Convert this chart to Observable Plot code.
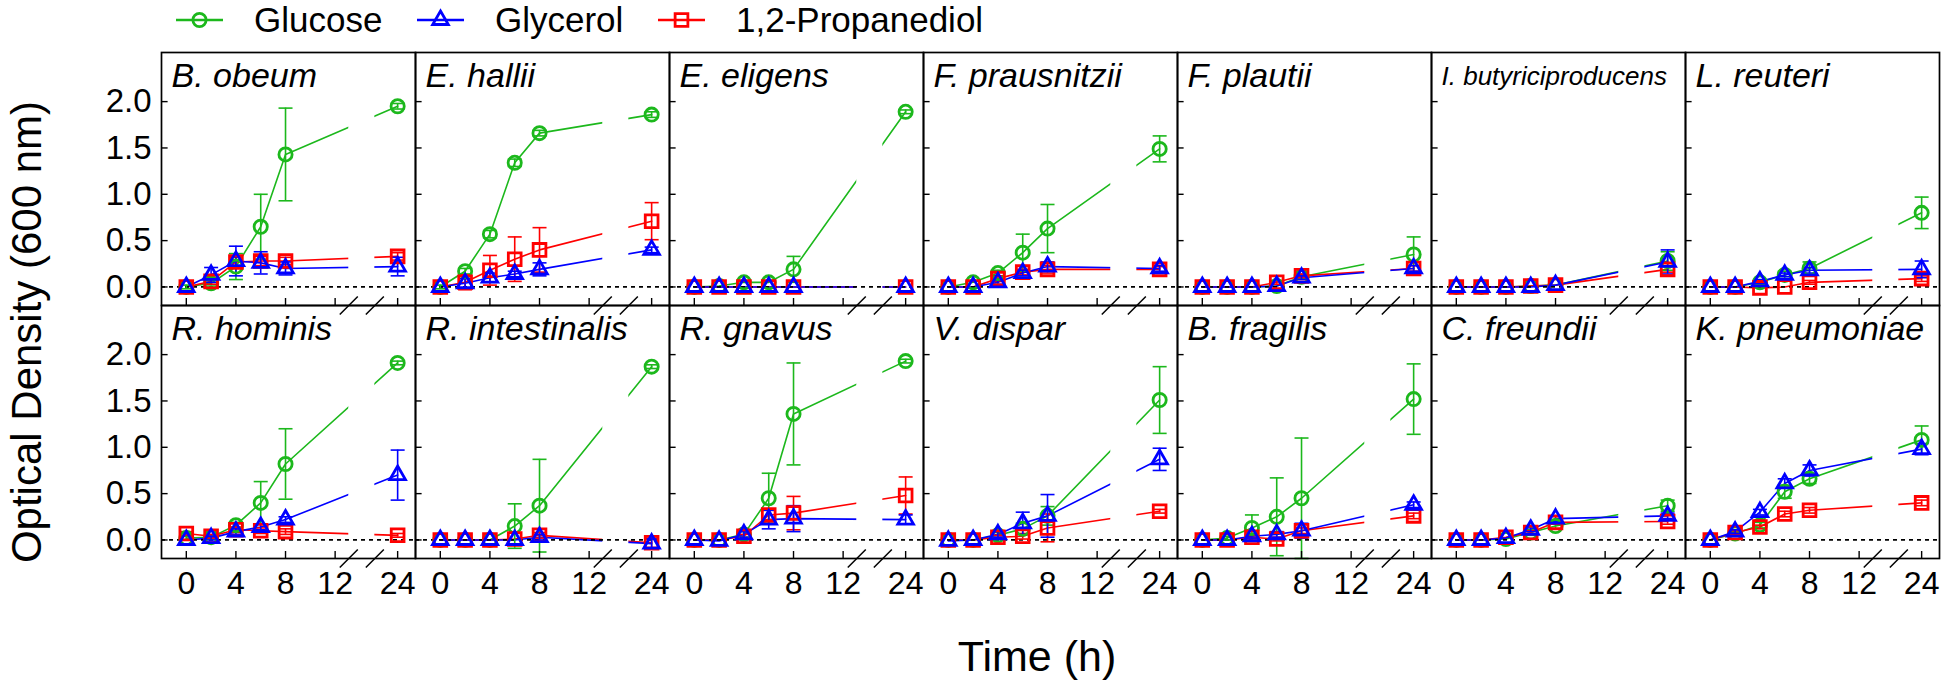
<!DOCTYPE html>
<html>
<head>
<meta charset="utf-8">
<script src="https://cdn.jsdelivr.net/npm/d3@7"></script>
<script src="https://cdn.jsdelivr.net/npm/@observablehq/plot@0.6"></script>
<style>
  html, body { margin: 0; padding: 0; background: #fff; }
  #wrap { position: relative; width: 1946px; height: 681px; font-family: "Liberation Sans", Arial, sans-serif; color: #000; overflow: hidden; }
  #wrap svg.plot { position: absolute; left: 0; top: 0; }
  .leg { position: absolute; top: 0; height: 40px; display: flex; align-items: center; }
  .leg span { font-size: 35px; line-height: 40px; margin-left: 31px; white-space: nowrap; }
  .title { position: absolute; white-space: nowrap; transform: translate(-50%, -50%); }
</style>
</head>
<body>
<div id="wrap"></div>
<script>
// ---------------- data ----------------
const species = [
  "B. obeum", "E. hallii", "E. eligens", "F. prausnitzii", "F. plautii", "I. butyriciproducens", "L. reuteri",
  "R. hominis", "R. intestinalis", "R. gnavus", "V. dispar", "B. fragilis", "C. freundii", "K. pneumoniae"
];
const hours = [0, 2, 4, 6, 8, 24];
const xTickHours = [0, 4, 8, 12, 24];
const yTicks = [0, 0.5, 1, 1.5, 2];
const seriesNames = ["Glucose", "Glycerol", "1,2-Propanediol"];

// optical density, one row per species, one value per hour
const glucose = [
  [0, 0.04, 0.22, 0.65, 1.43, 1.95],
  [0, 0.17, 0.57, 1.34, 1.66, 1.86],
  [0, 0.01, 0.05, 0.05, 0.19, 1.89],
  [0, 0.05, 0.15, 0.37, 0.63, 1.49],
  [0, 0, 0, 0.01, 0.11, 0.35],
  [0, 0, 0, 0.01, 0.02, 0.28],
  [0, 0, 0.05, 0.13, 0.2, 0.8],
  [0.02, 0.03, 0.16, 0.4, 0.82, 1.91],
  [0, 0, 0, 0.15, 0.37, 1.87],
  [0, 0, 0.06, 0.45, 1.36, 1.93],
  [0, 0, 0.05, 0.12, 0.26, 1.51],
  [0, 0.02, 0.13, 0.25, 0.45, 1.52],
  [0, 0, 0.01, 0.08, 0.15, 0.37],
  [0, 0.07, 0.16, 0.52, 0.66, 1.08]
];
const glucoseErr = [
  [0.02, 0.03, 0.14, 0.35, 0.5, 0.03],
  [0.02, 0.03, 0.04, 0.04, 0.03, 0.03],
  [0, 0, 0.01, 0.01, 0.14, 0.02],
  [0.01, 0.01, 0.03, 0.2, 0.26, 0.14],
  [0, 0, 0, 0, 0.02, 0.19],
  [0, 0, 0, 0, 0.01, 0.1],
  [0, 0, 0.02, 0.04, 0.07, 0.17],
  [0.02, 0.02, 0.03, 0.23, 0.38, 0.02],
  [0, 0, 0.01, 0.24, 0.5, 0.02],
  [0, 0, 0.03, 0.27, 0.55, 0.02],
  [0, 0, 0.03, 0.06, 0.1, 0.36],
  [0, 0.02, 0.14, 0.42, 0.65, 0.38],
  [0, 0, 0.01, 0.03, 0.03, 0.06],
  [0, 0.02, 0.03, 0.07, 0.05, 0.15]
];
const glycerol = [
  [0, 0.13, 0.28, 0.26, 0.2, 0.22],
  [0, 0.04, 0.1, 0.14, 0.19, 0.4],
  [0, 0, 0, 0, 0, 0],
  [0, 0, 0.05, 0.15, 0.22, 0.2],
  [0, 0, 0, 0.01, 0.1, 0.2],
  [0, 0, 0, 0, 0.02, 0.27],
  [0, 0, 0.06, 0.13, 0.18, 0.19],
  [0, 0.02, 0.09, 0.14, 0.22, 0.7],
  [0, 0, 0, 0, 0.03, -0.04],
  [0, -0.01, 0.06, 0.22, 0.23, 0.22],
  [-0.01, 0, 0.06, 0.18, 0.26, 0.87],
  [0, 0, 0.04, 0.06, 0.1, 0.38],
  [0, 0, 0.02, 0.11, 0.23, 0.26],
  [0, 0.09, 0.3, 0.61, 0.75, 0.98]
];
const glycerolErr = [
  [0.01, 0.08, 0.16, 0.12, 0.07, 0.1],
  [0.01, 0.05, 0.05, 0.03, 0.07, 0.03],
  [0, 0, 0, 0, 0, 0],
  [0, 0, 0.02, 0.03, 0.05, 0.03],
  [0, 0, 0, 0, 0.02, 0.03],
  [0, 0, 0, 0, 0.01, 0.13],
  [0, 0, 0.02, 0.02, 0.03, 0.09],
  [0.01, 0.02, 0.03, 0.03, 0.03, 0.27],
  [0, 0, 0, 0, 0.03, 0.05],
  [0, 0.01, 0.03, 0.1, 0.14, 0.05],
  [0, 0, 0.03, 0.12, 0.23, 0.12],
  [0, 0, 0.02, 0.03, 0.08, 0.03],
  [0, 0, 0.01, 0.02, 0.03, 0.03],
  [0, 0.02, 0.03, 0.05, 0.06, 0.06]
];
const propanediol = [
  [0, 0.06, 0.27, 0.28, 0.28, 0.33],
  [0, 0.05, 0.18, 0.3, 0.4, 0.71],
  [0, 0, 0, 0, 0, 0],
  [0, 0, 0.09, 0.16, 0.19, 0.19],
  [0, 0, 0, 0.05, 0.12, 0.2],
  [0, 0, 0, 0.01, 0.02, 0.19],
  [0, 0, -0.01, 0, 0.05, 0.09],
  [0.07, 0.04, 0.11, 0.1, 0.09, 0.05],
  [0, 0, 0, 0.01, 0.05, -0.03],
  [0, 0, 0.04, 0.27, 0.29, 0.48],
  [0, 0, 0.03, 0.04, 0.13, 0.31],
  [0, 0, 0.03, 0.01, 0.1, 0.26],
  [0, 0, 0.03, 0.08, 0.19, 0.2],
  [0, 0.08, 0.14, 0.28, 0.32, 0.4]
];
const propanediolErr = [
  [0.01, 0.03, 0.05, 0.05, 0.04, 0.04],
  [0.01, 0.08, 0.16, 0.24, 0.24, 0.2],
  [0, 0, 0, 0, 0, 0],
  [0, 0, 0.03, 0.03, 0.04, 0.03],
  [0, 0, 0, 0.02, 0.02, 0.03],
  [0, 0, 0, 0, 0.01, 0.03],
  [0, 0, 0.01, 0.01, 0.02, 0.03],
  [0.02, 0.02, 0.03, 0.03, 0.03, 0.02],
  [0, 0, 0, 0, 0.03, 0.05],
  [0, 0, 0.02, 0.05, 0.18, 0.2],
  [0, 0, 0.02, 0.03, 0.15, 0.02],
  [0, 0, 0.02, 0.02, 0.03, 0.03],
  [0, 0, 0.01, 0.02, 0.02, 0.03],
  [0, 0.02, 0.02, 0.03, 0.03, 0.03]
];

// ---------------- styles / layout ----------------
const colors = ["#1cb81c", "#0000ff", "#ff0000"];
const symbols = ["circle", "triangle", "square"];
const symbolR = [6.6, 5.8, 7.2];
const drawOrder = [0, 2, 1]; // glucose, propanediol, glycerol (blue on top)
const W = 1946, H = 681;
const mLeft = 159.3, mRight = 6, mTop = 52, mBottom = 123;
const nCols = 7, nRows = 2;
const panelW = (W - mLeft - mRight) / nCols;
const panelH = (H - mTop - mBottom) / nRows;

// broken time axis: hours after 12 are compressed
const disp = h => (h <= 12 ? h : 12 + (h - 12) * 0.42);
const undisp = d => (d <= 12 ? d : 12 + (d - 12) / 0.42);
const breakMarks = [13.1, 15.2];   // axis-break slashes (display units)

const allValues = [glucose, glycerol, propanediol];
const allErrors = [glucoseErr, glycerolErr, propanediolErr];

const records = [];
allValues.forEach((vals, k) => species.forEach((name, i) => hours.forEach((h, j) => {
  records.push({k, col: i % nCols, row: Math.floor(i / nCols), t: disp(h), v: vals[i][j], e: allErrors[k][i][j]});
})));
const titles = species.map((name, i) => ({name, col: i % nCols, row: Math.floor(i / nCols)}));

const cap = {draw(ctx, size) { const r = Math.sqrt(size / Math.PI); ctx.moveTo(-r, 0); ctx.lineTo(r, 0); }};
const slash = {draw(ctx, size) { const r = Math.sqrt(size / Math.PI); ctx.moveTo(-r, r); ctx.lineTo(r, -r); }};

const marks = [];
for (const k of drawOrder) {
  marks.push(Plot.line(records.filter(d => d.k === k), {x: "t", y: "v", fx: "col", fy: "row", stroke: colors[k], strokeWidth: 1.6}));
}
// interrupt lines across the axis break
marks.push(Plot.rect([0], {x1: breakMarks[0], x2: breakMarks[1], y1: -0.2, y2: 2.53, fill: "white"}));
marks.push(Plot.ruleY([0], {stroke: "black", strokeWidth: 1.7, strokeDasharray: "4,4"}));
for (const k of drawOrder) {
  const eb = records.filter(d => d.k === k && d.e > 0.015);
  marks.push(Plot.ruleX(eb, {x: "t", y1: d => d.v - d.e, y2: d => d.v + d.e, fx: "col", fy: "row", stroke: colors[k], strokeWidth: 1.6}));
  marks.push(Plot.dot(eb, {x: "t", y: d => d.v + d.e, fx: "col", fy: "row", symbol: cap, r: 7, fill: "none", stroke: colors[k], strokeWidth: 1.6}));
  marks.push(Plot.dot(eb, {x: "t", y: d => d.v - d.e, fx: "col", fy: "row", symbol: cap, r: 7, fill: "none", stroke: colors[k], strokeWidth: 1.6}));
}
for (const k of drawOrder) {
  marks.push(Plot.dot(records.filter(d => d.k === k), {x: "t", y: "v", fx: "col", fy: "row", symbol: symbols[k], r: symbolR[k], fill: "none", stroke: colors[k], strokeWidth: 2.8}));
}
marks.push(Plot.frame({stroke: "black", strokeWidth: 1.7}));
marks.push(Plot.ruleX(xTickHours.map(disp), {x: d => d, insetTop: panelH - 7, stroke: "black", strokeWidth: 1.4}));
marks.push(Plot.ruleY(yTicks, {y: d => d, insetRight: panelW - 7, stroke: "black", strokeWidth: 1.4}));
marks.push(Plot.dot(breakMarks, {x: d => d, frameAnchor: "bottom", symbol: slash, r: 9, fill: "none", stroke: "black", strokeWidth: 1.5}));
marks.push(Plot.text(titles, {fx: "col", fy: "row", text: "name", frameAnchor: "top-left", textAnchor: "start", lineAnchor: "middle",
  dx: 10, dy: 24, fontStyle: "italic", fontSize: d => (d.name.length > 16 ? 26 : 34)}));
marks.push(Plot.axisY({ticks: yTicks, tickFormat: d3.format(".1f"), tickSize: 0, tickPadding: 10, fontSize: 33, label: null}));
marks.push(Plot.axisX({ticks: xTickHours.map(disp), tickFormat: d => String(Math.round(undisp(d))), tickSize: 0, tickPadding: 13, fontSize: 32, label: null}));

const chart = Plot.plot({
  width: W, height: H,
  marginLeft: mLeft, marginRight: mRight, marginTop: mTop, marginBottom: mBottom,
  fx: {domain: d3.range(nCols), padding: 0, axis: null},
  fy: {domain: d3.range(nRows), padding: 0, axis: null},
  x: {domain: [-2, 18.48]},
  y: {domain: [-0.2, 2.53]},
  style: {fontFamily: "'Liberation Sans', Arial, sans-serif", fontSize: "31px", color: "black", background: "white", overflow: "visible"},
  marks
});
const wrap = document.getElementById("wrap");
wrap.appendChild(chart);

// legend (above the panels)
const legendX = [176, 417, 658];
seriesNames.forEach((name, k) => {
  const div = document.createElement("div");
  div.className = "leg";
  div.style.left = legendX[k] + "px";
  const ns = "http://www.w3.org/2000/svg";
  const svg = document.createElementNS(ns, "svg");
  svg.setAttribute("width", 47); svg.setAttribute("height", 36);
  const line = document.createElementNS(ns, "line");
  line.setAttribute("x1", 0); line.setAttribute("x2", 47); line.setAttribute("y1", 18); line.setAttribute("y2", 18);
  line.setAttribute("stroke", colors[k]); line.setAttribute("stroke-width", 2.5);
  svg.appendChild(line);
  const path = document.createElementNS(ns, "path");
  const sym = [d3.symbolCircle, d3.symbolTriangle, d3.symbolSquare][k];
  path.setAttribute("d", d3.symbol(sym, Math.PI * symbolR[k] * symbolR[k])());
  path.setAttribute("transform", "translate(23.5,18)");
  path.setAttribute("fill", "none"); path.setAttribute("stroke", colors[k]); path.setAttribute("stroke-width", 2.8);
  svg.appendChild(path);
  div.appendChild(svg);
  const span = document.createElement("span");
  span.textContent = name;
  div.appendChild(span);
  wrap.appendChild(div);
});

// axis titles
const yt = document.createElement("div");
yt.className = "title";
yt.textContent = "Optical Density (600 nm)";
yt.style.cssText += "left:27px;top:332px;font-size:42px;transform:translate(-50%,-50%) rotate(-90deg);";
wrap.appendChild(yt);
const xt = document.createElement("div");
xt.className = "title";
xt.textContent = "Time (h)";
xt.style.cssText += "left:1037px;top:656px;font-size:43px;";
wrap.appendChild(xt);
</script>
</body>
</html>
